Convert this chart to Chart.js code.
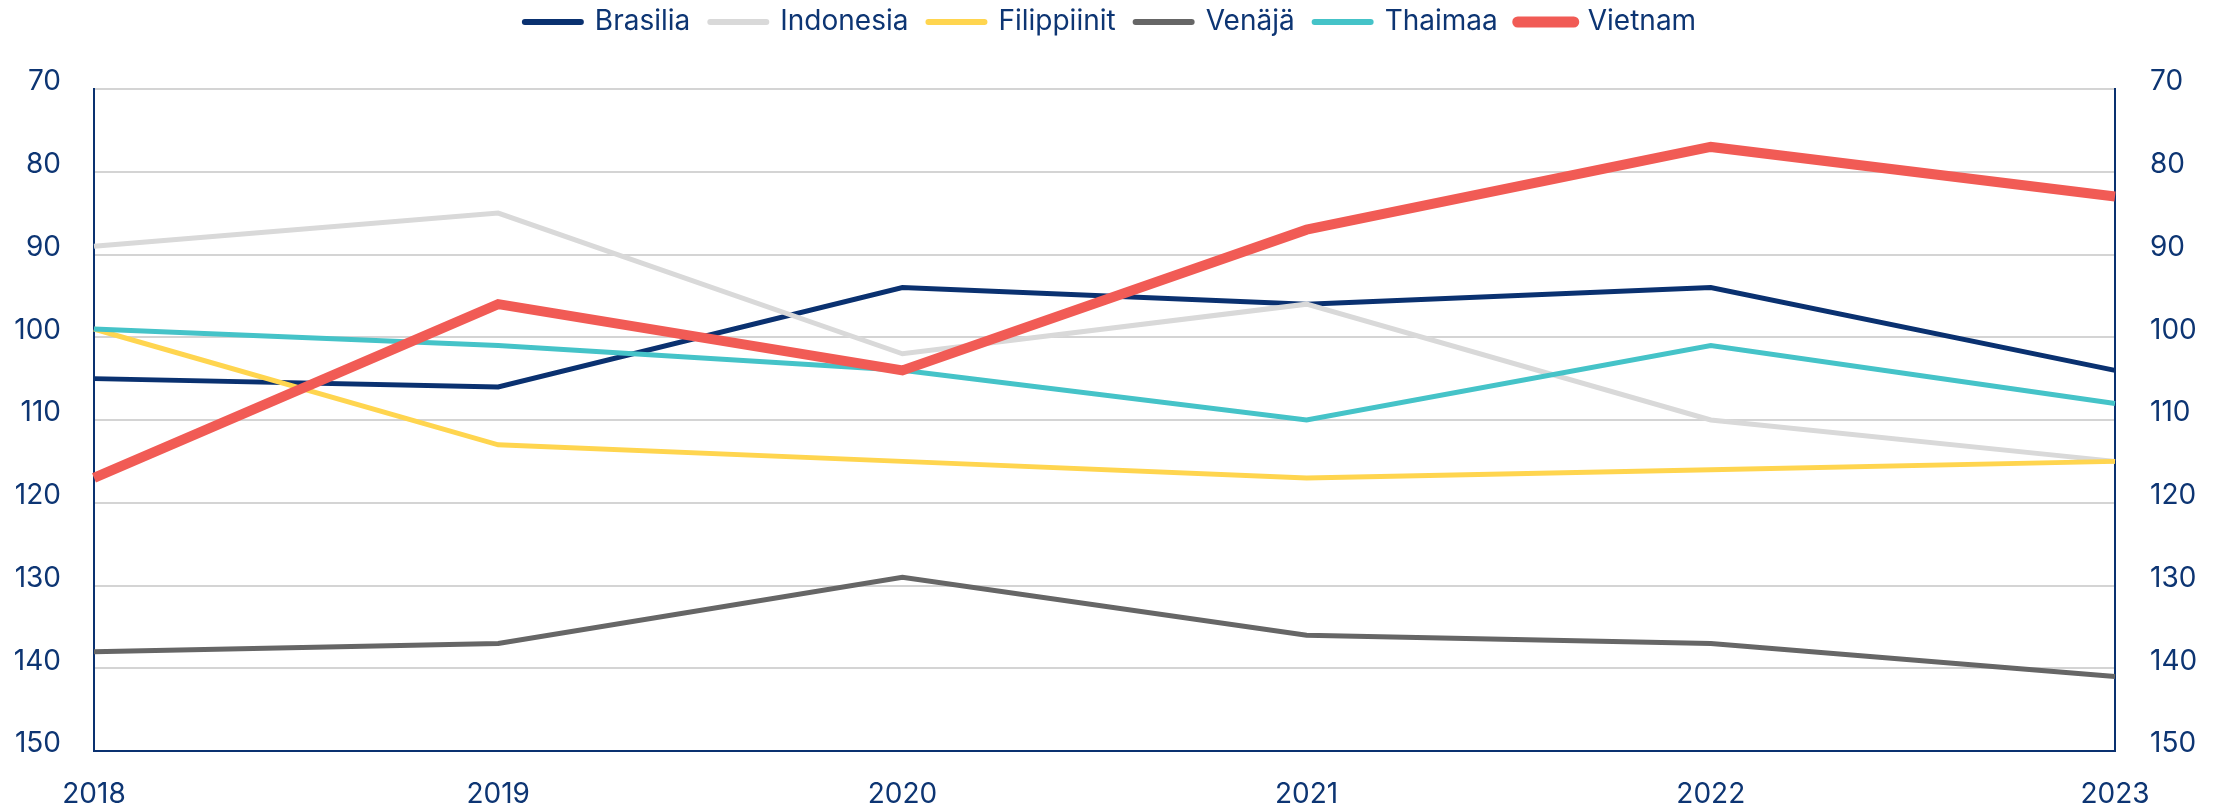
<!DOCTYPE html>
<html>
<head>
<meta charset="utf-8">
<script src="https://cdn.jsdelivr.net/npm/chart.js@4.4.1/dist/chart.umd.min.js"></script>
<style>
  html, body { margin: 0; padding: 0; background: #ffffff; }
  #wrap { width: 2221px; height: 806px; position: relative; }
</style>
</head>
<body>
<div id="wrap"><canvas id="indexChart"></canvas></div>
<script>
// Index values per country, 2018-2023 (axis is reversed)
const years = ['2018', '2019', '2020', '2021', '2022', '2023'];
const brasilia    = [105, 106, 94, 96, 94, 104];
const indonesia   = [89, 85, 102, 96, 110, 115];
const filippiinit = [99, 113, 115, 117, 116, 115];
const venaja      = [138, 137, 129, 136, 137, 141];
const thaimaa     = [99, 101, 104, 110, 101, 108];
const vietnam     = [117, 96, 104, 87, 77, 83];
const yTicks      = [70, 80, 90, 100, 110, 120, 130, 140, 150];

const textColor = '#0d3573';
const navy = '#0a3170';
const fontFamily = "Inter, 'Open Sans', sans-serif";

function series(label, data, color, width, order) {
    return {
        label: label,
        data: data,
        borderColor: color,
        backgroundColor: color,
        borderWidth: width,
        pointRadius: 0,
        pointHoverRadius: 0,
        tension: 0,
        fill: false,
        order: order
    };
}

const datasets = [
    series('Brasilia', brasilia, navy, 5, 5),
    series('Indonesia', indonesia, '#d9d9d9', 5, 4),
    series('Filippiinit', filippiinit, '#ffd54f', 5, 3),
    series('Venäjä', venaja, '#666666', 5, 2),
    series('Thaimaa', thaimaa, '#45c3c8', 5, 1),
    series('Vietnam', vietnam, '#f15b55', 10, 0)
];

const tickFont = { family: fontFamily, size: 28 };

// extra room between the legend and the plot
const legendGap = {
    id: 'legendGap',
    beforeInit(chart) {
        const fit = chart.legend.fit;
        chart.legend.fit = function() {
            fit.bind(chart.legend)();
            this.height += 43;
        };
    }
};

const config = {
    type: 'line',
    data: { labels: years, datasets: datasets },
    plugins: [legendGap],
    options: {
        responsive: true,
        maintainAspectRatio: false,
        animation: false,
        layout: { padding: { top: -12, left: 0, right: 0, bottom: 0 } },
        plugins: {
            legend: {
                display: true,
                position: 'top',
                labels: {
                    usePointStyle: true,
                    pointStyle: 'line',
                    pointStyleWidth: 56,
                    padding: 20,
                    color: textColor,
                    font: { family: fontFamily, size: 28 },
                    generateLabels: function(chart) {
                        return chart.data.datasets.map((ds, i) => ({
                            text: ds.label,
                            strokeStyle: ds.borderColor,
                            fillStyle: ds.borderColor,
                            lineWidth: ds.borderWidth > 6 ? 11 : 6,
                            lineCap: 'round',
                            pointStyle: 'line',
                            fontColor: textColor,
                            hidden: false,
                            datasetIndex: i
                        }));
                    }
                }
            },
            tooltip: { enabled: false }
        },
        scales: {
            x: {
                offset: false,
                grid: { display: false },
                border: { display: true, color: navy, width: 2 },
                ticks: {
                    color: textColor,
                    font: tickFont,
                    maxRotation: 0,
                    autoSkip: false,
                    padding: 19
                },
                afterFit: function(scale) { scale.height = 55; }
            },
            y: {
                position: 'left',
                reverse: true,
                min: 70,
                max: 150,
                afterBuildTicks: function(scale) { scale.ticks = yTicks.map(v => ({ value: v })); },
                grid: { color: '#d4d4d4', lineWidth: 2, drawTicks: false },
                border: { display: true, color: navy, width: 2 },
                ticks: {
                    color: textColor,
                    font: tickFont,
                    padding: 33,
                    labelOffset: -7
                },
                afterFit: function(scale) { scale.width = 94; }
            },
            y2: {
                position: 'right',
                reverse: true,
                min: 70,
                max: 150,
                afterBuildTicks: function(scale) { scale.ticks = yTicks.map(v => ({ value: v })); },
                grid: { display: false, drawTicks: false },
                border: { display: true, color: navy, width: 2 },
                ticks: {
                    color: textColor,
                    font: tickFont,
                    padding: 35,
                    labelOffset: -7
                },
                afterFit: function(scale) { scale.width = 106; }
            }
        }
    }
};

const ctx = document.getElementById('indexChart');
new Chart(ctx, config);
</script>
</body>
</html>
